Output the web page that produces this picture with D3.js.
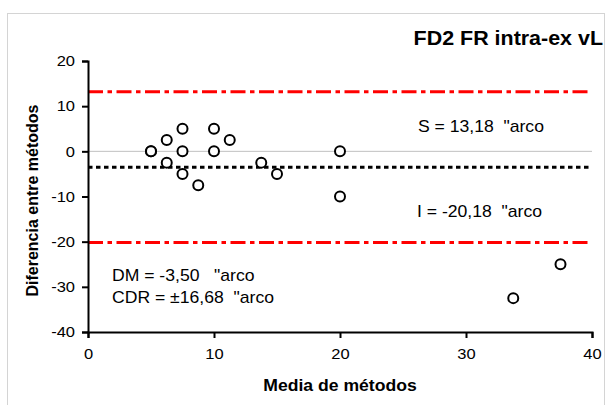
<!DOCTYPE html>
<html>
<head>
<meta charset="utf-8">
<script src="https://cdn.jsdelivr.net/npm/d3@7"></script>
<style>
  body { margin: 0; background: #fff; }
  svg { display: block; font-family: "Liberation Sans", Arial, sans-serif; }
  text { white-space: pre; }
</style>
</head>
<body>
<div id="chart"></div>
<script>
// Data
const mediaMetodos = [5, 5, 6.25, 6.25, 7.5, 7.5, 7.5, 8.75, 10, 10, 11.25, 13.75, 15, 20, 20, 33.75, 37.5];
const diferencia   = [0, 0, 2.5, -2.5, 5, 0, -5, -7.5, 5, 0, 2.5, -2.5, -5, 0, -10, -32.5, -25];
const xTicks = [0, 10, 20, 30, 40];
const yTicks = [20, 10, 0, -10, -20, -30, -40];
const limiteSup = 13.18;
const limiteInf = -20.18;
const difMedia = -3.5;
const labels = {
  title: "FD2 FR intra-ex vL",
  xTitle: "Media de métodos",
  yTitle: "Diferencia entre métodos",
  sup: "S = 13,18  \"arco",
  inf: "I = -20,18  \"arco",
  dm: "DM = -3,50   \"arco",
  cdr: "CDR = \u00b116,68  \"arco"
};

const width = 606, height = 405;
const margin = { top: 61, right: 14, bottom: 73, left: 88 };
const stretch = 1.1; // the picture's text is a bit wider than plain Arial

const svg = d3.select("#chart").append("svg")
  .attr("width", width)
  .attr("height", height);

// outer frame
svg.append("rect")
  .attr("x", 7.5).attr("y", 13.5)
  .attr("width", 597).attr("height", 400)
  .attr("fill", "none")
  .attr("stroke", "#d4d4d4")
  .attr("stroke-width", 1);

const x = d3.scaleLinear().domain([0, 40]).range([margin.left, width - margin.right]);
const y = d3.scaleLinear().domain([-40, 20]).range([height - margin.bottom, margin.top]);

// zero line
svg.append("line")
  .attr("x1", x(0)).attr("x2", x(40))
  .attr("y1", y(0)).attr("y2", y(0))
  .attr("stroke", "#c0c0c0").attr("stroke-width", 1);

// limits of agreement
[limiteSup, limiteInf].forEach(v => {
  svg.append("line")
    .attr("x1", x(0)).attr("x2", x(40))
    .attr("y1", y(v)).attr("y2", y(v))
    .attr("stroke", "#ff0000").attr("stroke-width", 3)
    .attr("stroke-dasharray", "15,4.5,4.5,4.5");
});

// mean difference
svg.append("line")
  .attr("x1", x(0)).attr("x2", x(40))
  .attr("y1", y(difMedia)).attr("y2", y(difMedia))
  .attr("stroke", "#000").attr("stroke-width", 3)
  .attr("stroke-dasharray", "4.5,3.5");

// axes
const fmt = d => String(d);
const yAxis = svg.append("g")
  .attr("transform", `translate(${x(0)},0)`)
  .call(d3.axisLeft(y).tickValues(yTicks).tickSize(6).tickPadding(7).tickFormat(fmt));
const xAxis = svg.append("g")
  .attr("transform", `translate(0,${y(-40)})`)
  .call(d3.axisBottom(x).tickValues(xTicks).tickSize(6).tickPadding(10).tickFormat(fmt));

[xAxis, yAxis].forEach(a => {
  a.select(".domain").attr("stroke", "#000").attr("stroke-width", 2);
  a.selectAll(".tick line").attr("stroke", "#000").attr("stroke-width", 2);
  a.selectAll(".tick text").attr("fill", "#000").style("font-size", "15px")
    .style("font-family", "'Liberation Sans', Arial, sans-serif");
});
yAxis.selectAll(".tick text")
  .attr("x", -13 / stretch)
  .attr("transform", `scale(${stretch},1)`);
xAxis.selectAll(".tick text")
  .attr("transform", `scale(${stretch},1)`);

// points
svg.append("g").selectAll("circle")
  .data(mediaMetodos.map((m, i) => [m, diferencia[i]]))
  .join("circle")
  .attr("cx", d => x(d[0]))
  .attr("cy", d => y(d[1]))
  .attr("r", 5)
  .attr("fill", "#fff")
  .attr("stroke", "#000")
  .attr("stroke-width", 2);

// annotations
const ann = (txt, tx, ty, size, weight, anchor) => svg.append("text")
  .attr("transform", `translate(${tx},${ty}) scale(${stretch},1)`)
  .attr("text-anchor", anchor || "start")
  .style("font-size", size)
  .style("font-weight", weight || "normal")
  .attr("fill", "#000")
  .text(txt);

ann(labels.title, 603, 45, "19.5px", "bold", "end");
ann(labels.sup, 418, 132, "16px");
ann(labels.inf, 417, 217, "16px");
ann(labels.dm, 112, 281, "16px");
ann(labels.cdr, 112, 303, "16px");
ann(labels.xTitle, x(20), 391, "16px", "bold", "middle");

svg.append("text")
  .attr("transform", `translate(38,${(y(20) + y(-40)) / 2 + 4}) rotate(-90)`)
  .attr("text-anchor", "middle")
  .style("font-size", "16px")
  .style("font-weight", "bold")
  .attr("fill", "#000")
  .text(labels.yTitle);
</script>
</body>
</html>
